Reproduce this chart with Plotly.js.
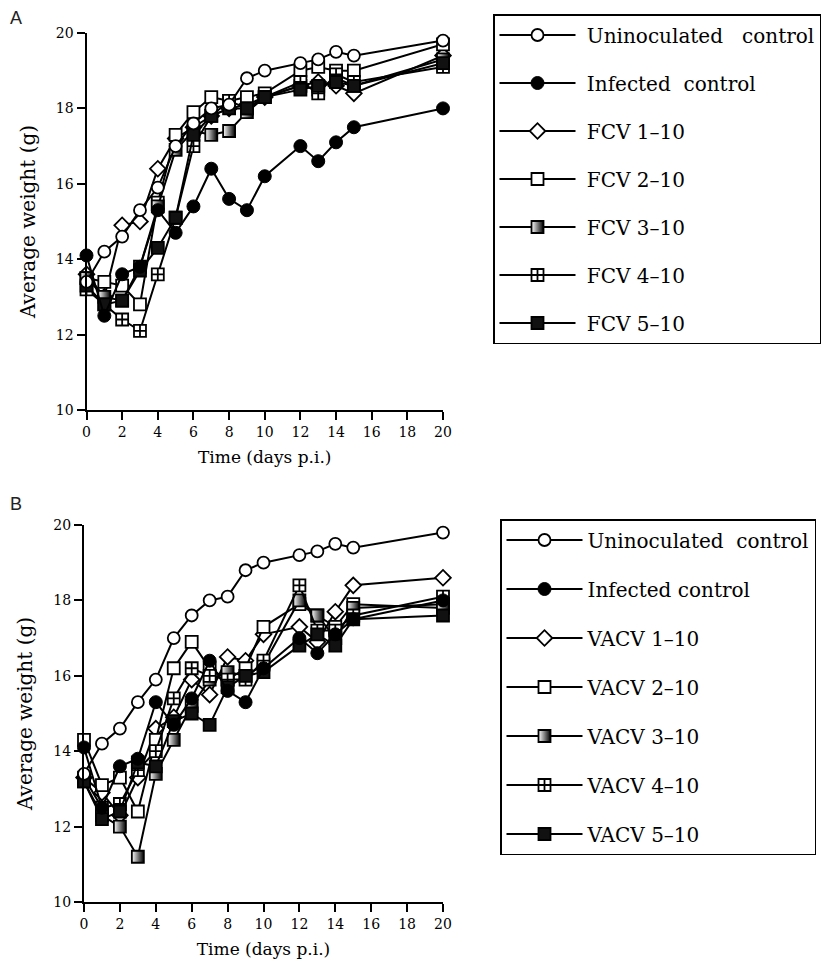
<!DOCTYPE html>
<html>
<head>
<meta charset="utf-8">
<script src="https://cdn.plot.ly/plotly-3.0.1.min.js"></script>
<style>html,body{margin:0;padding:0;background:#fff;}#chart{width:826px;height:974px;}</style>
</head>
<body>
<div id="chart"></div>
<script>
// Days post infection
var days = [0, 1, 2, 3, 4, 5, 6, 7, 8, 9, 10, 12, 13, 14, 15, 20];
var xTicks = [0, 2, 4, 6, 8, 10, 12, 14, 16, 18, 20];
var yTicks = [10, 12, 14, 16, 18, 20];

// Controls (same in both panels)
var uninoculated = [13.4, 14.2, 14.6, 15.3, 15.9, 17.0, 17.6, 18.0, 18.1, 18.8, 19.0, 19.2, 19.3, 19.5, 19.4, 19.8];
var infected     = [14.1, 12.5, 13.6, 13.8, 15.3, 14.7, 15.4, 16.4, 15.6, 15.3, 16.2, 17.0, 16.6, 17.1, 17.5, 18.0];

// Panel A: FCV
var fcv1 = [13.6, 13.0, 14.9, 15.0, 16.4, 17.2, 17.5, 17.8, 18.0, 18.1, 18.3, 18.6, 18.7, 18.6, 18.4, 19.4];
var fcv2 = [13.5, 13.4, 13.3, 12.8, 15.5, 17.3, 17.9, 18.3, 18.2, 18.3, 18.4, 19.0, 19.1, 19.0, 19.0, 19.7];
var fcv3 = [13.5, 13.0, 12.9, 13.8, 15.4, 16.9, 17.4, 17.3, 17.4, 17.9, 18.3, 18.6, 18.5, 18.8, 18.6, 19.3];
var fcv4 = [13.2, 12.8, 12.4, 12.1, 13.6, 15.1, 17.0, 17.8, 18.2, 18.0, 18.3, 18.7, 18.4, 18.9, 18.7, 19.1];
var fcv5 = [13.3, 12.8, 12.9, 13.7, 14.3, 15.1, 17.3, 17.8, 18.0, 18.0, 18.3, 18.5, 18.6, 18.7, 18.6, 19.2];

// Panel B: VACV
var vacv1 = [13.3, 12.9, 12.3, 13.3, 14.6, 14.9, 15.9, 15.5, 16.5, 16.4, 17.1, 17.3, 16.9, 17.7, 18.4, 18.6];
var vacv2 = [14.3, 13.1, 13.3, 12.4, 14.3, 16.2, 16.9, 16.2, 15.9, 16.2, 17.3, 17.9, 17.6, 17.3, 17.9, 17.8];
var vacv3 = [13.2, 12.3, 12.0, 11.2, 13.4, 14.3, 15.2, 15.9, 16.1, 16.0, 16.3, 18.0, 17.6, 17.0, 17.8, 17.9];
var vacv4 = [13.3, 12.5, 12.6, 13.5, 14.0, 15.4, 16.2, 16.0, 15.9, 15.9, 16.4, 18.4, 17.2, 17.2, 17.6, 18.1];
var vacv5 = [13.2, 12.2, 12.4, 13.7, 13.6, 14.8, 15.0, 14.7, 15.7, 16.0, 16.1, 16.8, 17.1, 16.8, 17.5, 17.6];

var namesA = ['Uninoculated\u00a0\u00a0\u00a0control', 'Infected\u00a0\u00a0control', 'FCV 1\u201310', 'FCV 2\u201310', 'FCV 3\u201310', 'FCV 4\u201310', 'FCV 5\u201310'];
var namesB = ['Uninoculated\u00a0\u00a0control', 'Infected control', 'VACV 1\u201310', 'VACV 2\u201310', 'VACV 3\u201310', 'VACV 4\u201310', 'VACV 5\u201310'];

var markerStyles = [
  {symbol: 'circle', size: 12, color: 'white', line: {color: 'black', width: 1.8}},
  {symbol: 'circle', size: 13, color: 'black', line: {color: 'black', width: 1}},
  {symbol: 'diamond', size: 12, color: 'white', line: {color: 'black', width: 1.8}},
  {symbol: 'square', size: 12, color: 'white', line: {color: 'black', width: 1.8}},
  {symbol: 'square', size: 12, color: 'white', gradient: {type: 'horizontal', color: 'black'}, line: {color: 'black', width: 1.8}},
  {symbol: 'square-cross', size: 12, color: 'white', line: {color: 'black', width: 1.8}},
  {symbol: 'square', size: 12, color: '#111', line: {color: 'black', width: 1.8}}
];

var serif = 'DejaVu Serif, serif';
var W = 826, H = 974;

function makeTraces(series, names, xa, ya, legendId, prefix, pad) {
  return series.map(function (ys, i) {
    return {
      type: 'scatter', mode: 'lines+markers',
      x: days, y: ys, name: pad + names[i],
      xaxis: xa, yaxis: ya, legend: legendId,
      legendgroup: prefix + i, legendrank: i + 1,
      cliponaxis: false,
      line: {color: 'black', width: 2},
      marker: markerStyles[i]
    };
  });
}

var tracesA = makeTraces([uninoculated, infected, fcv1, fcv2, fcv3, fcv4, fcv5], namesA, 'x', 'y', 'legend', 'a', '\u00a0');
var tracesB = makeTraces([uninoculated, infected, vacv1, vacv2, vacv3, vacv4, vacv5], namesB, 'x2', 'y2', 'legend2', 'b', '');
// draw controls last so they sit on top
var data = tracesA.slice(2).concat(tracesA.slice(0, 2)).concat(tracesB.slice(2)).concat(tracesB.slice(0, 2));

function xAxis(anchor, left) {
  return {
    domain: [left / W, 443 / W], range: [0, 20], anchor: anchor,
    tickvals: xTicks, ticktext: xTicks.map(String),
    ticks: 'outside', ticklen: 8, tickwidth: 2, tickcolor: 'black',
    showline: true, linewidth: 2, linecolor: 'black',
    showgrid: false, zeroline: false,
    tickfont: {family: serif, size: 14, color: 'black'},
    title: {text: 'Time (days p.i.)', font: {family: serif, size: 17, color: 'black'}, standoff: 12}
  };
}
function yAxis(anchor, top, bottom) {
  return {
    domain: [1 - bottom / H, 1 - top / H], range: [10, 20], anchor: anchor,
    tickvals: yTicks, ticktext: yTicks.map(String),
    ticks: 'outside', ticklen: 8, tickwidth: 2, tickcolor: 'black',
    showline: true, linewidth: 2, linecolor: 'black',
    showgrid: false, zeroline: false,
    tickfont: {family: serif, size: 14, color: 'black'},
    title: {text: 'Average weight (g)', font: {family: serif, size: 20, color: 'black'}, standoff: 15}
  };
}

function legendCfg(x, y, gap) {
  return {
    x: x / W, y: 1 - y / H, xanchor: 'left', yanchor: 'top',
    bordercolor: 'black', borderwidth: 1.5, bgcolor: 'white',
    font: {family: serif, size: 20, color: 'black'},
    itemwidth: 76, tracegroupgap: gap, traceorder: 'grouped',
    itemclick: false, itemdoubleclick: false
  };
}

var layout = {
  width: W, height: H,
  margin: {l: 0, r: 0, t: 0, b: 0},
  paper_bgcolor: 'white', plot_bgcolor: 'white',
  showlegend: true,
  xaxis: xAxis('y', 86.5),
  yaxis: yAxis('x', 33, 410),
  xaxis2: xAxis('y2', 84),
  yaxis2: yAxis('x2', 525, 902),
  legend: legendCfg(493, 14, 19),
  legend2: legendCfg(500, 519, 20),
  annotations: [
    {text: 'A', xref: 'paper', yref: 'paper', x: 8 / W, y: 1 - 6 / H, xanchor: 'left', yanchor: 'top', showarrow: false, font: {family: 'Liberation Sans, Arial, sans-serif', size: 18, color: '#222'}},
    {text: 'B', xref: 'paper', yref: 'paper', x: 8 / W, y: 1 - 492 / H, xanchor: 'left', yanchor: 'top', showarrow: false, font: {family: 'Liberation Sans, Arial, sans-serif', size: 18, color: '#222'}}
  ]
};

Plotly.newPlot('chart', data, layout, {displayModeBar: false, staticPlot: true});
</script>
</body>
</html>
